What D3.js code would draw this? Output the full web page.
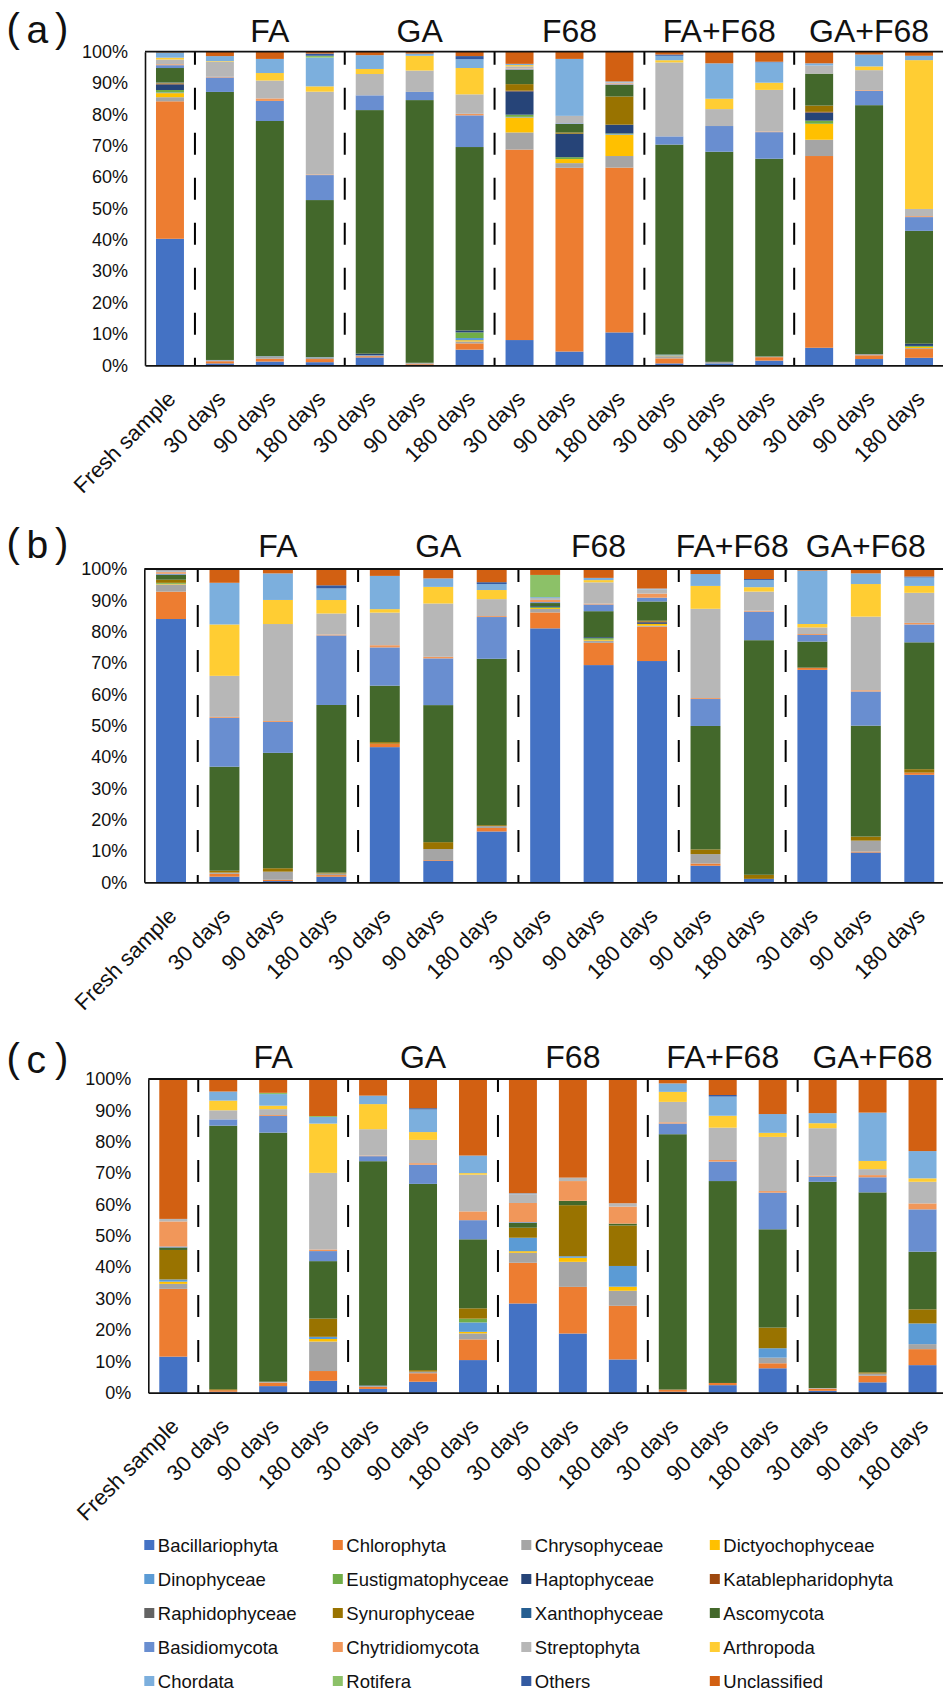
<!DOCTYPE html>
<html><head><meta charset="utf-8">
<script src="https://cdn.jsdelivr.net/npm/d3@7"></script>
<style>
body{margin:0;background:#fff}
svg{display:block}
text{font-family:"Liberation Sans",Arial,sans-serif}
</style>
</head><body>
<svg id="chart" width="943" height="1691"></svg>
<script>
// ---------- categories, groups, ticks ----------
const seriesNames = ["Bacillariophyta","Chlorophyta","Chrysophyceae","Dictyochophyceae","Dinophyceae","Eustigmatophyceae","Haptophyceae","Katablepharidophyta","Raphidophyceae","Synurophyceae","Xanthophyceae","Ascomycota","Basidiomycota","Chytridiomycota","Streptophyta","Arthropoda","Chordata","Rotifera","Others","Unclassified"];
const seriesColors = ["#4472C4","#ED7D31","#A5A5A5","#FFC000","#5B9BD5","#70AD47","#264478","#9E480E","#636363","#997300","#255E91","#43682B","#698ED0","#F1975A","#B7B7B7","#FFCD33","#7CAFDD","#8CC168","#335AA1","#D26012"];

const categoriesAC = ["Fresh sample","30 days","90 days","180 days","30 days","90 days","180 days","30 days","90 days","180 days","30 days","90 days","180 days","30 days","90 days","180 days"];
const groupsAC = ["","FA","FA","FA","GA","GA","GA","F68","F68","F68","FA+F68","FA+F68","FA+F68","GA+F68","GA+F68","GA+F68"];
const categoriesB = ["Fresh sample","30 days","90 days","180 days","30 days","90 days","180 days","30 days","90 days","180 days","90 days","180 days","30 days","90 days","180 days"];
const groupsB = ["","FA","FA","FA","GA","GA","GA","F68","F68","F68","FA+F68","FA+F68","GA+F68","GA+F68","GA+F68"];
const yTickValues = [0,0.1,0.2,0.3,0.4,0.5,0.6,0.7,0.8,0.9,1.0];
const panelLetters = ["a","b","c"];

// ---------- panel (a) values, % ----------
const A_Bacillariophyta = [40.3,0.6,1.2,1.0,2.5,0.2,5.0,8.1,4.4,10.5,0.6,0.6,1.5,5.6,2.0,2.4];
const A_Chlorophyta = [43.8,0.7,0.9,1.0,0.4,0.3,2.0,61.1,58.7,52.6,1.6,0,1.1,61.2,1.2,2.8];
const A_Chrysophyceae = [1.3,0.3,0.7,0.5,0.2,0.3,0.6,5.5,1.5,3.7,0.7,0.5,0.2,5.2,0.4,0.3];
const A_Dictyochophyceae = [1.3,0,0,0,0,0,0.4,4.8,1.3,6.8,0.2,0,0,5.1,0,0.4];
const A_Dinophyceae = [0.2,0.1,0.1,0.1,0.1,0,0.7,0.2,0,0.2,0.3,0,0,0,0,0];
const A_Eustigmatophyceae = [0.8,0,0,0,0,0,1.8,0.7,0.6,0.2,0,0,0,1.0,0,0.3];
const A_Haptophyceae = [1.8,0,0,0,0.5,0,0.6,7.5,7.5,2.8,0,0,0,2.6,0,0.7];
const A_Katablepharidophyta = [0.2,0,0,0,0,0,0,0.2,0,0,0,0,0,0.2,0,0];
const A_Raphidophyceae = [0.1,0,0,0,0,0,0,0,0,0,0,0,0,0,0,0];
const A_Synurophyceae = [0.2,0,0,0,0,0,0,2.1,0.4,9.0,0,0,0,2.0,0,0];
const A_Xanthophyceae = [0.1,0,0,0,0,0,0,0,0,0,0,0,0,0,0,0];
const A_Ascomycota = [4.6,85.3,75.0,50.3,77.6,83.6,58.5,4.6,2.7,3.7,66.7,67.0,63.2,10.2,79.6,36.1];
const A_Basidiomycota = [0.9,4.6,6.4,8.0,4.7,2.6,10.1,0.2,0.2,0.2,2.6,8.2,8.5,0,4.6,4.4];
const A_Chytridiomycota = [0.3,0.2,0.8,0.2,0,0,0.5,0.2,0,0.3,0,0,0.2,0,0.2,0.3];
const A_Streptophyta = [1.5,4.8,5.7,26.5,6.8,6.8,6.2,0.7,2.4,0.3,23.5,5.4,13.3,2.6,6.4,2.3];
const A_Arthropoda = [0.6,0.2,2.4,1.7,1.6,4.7,8.4,0.4,0,0,0.7,3.3,2.3,0,1.2,47.6];
const A_Chordata = [1.5,1.6,4.5,9.2,4.4,0.7,2.8,0.4,18.2,0.3,1.4,11.3,6.5,0.7,3.8,1.4];
const A_Rotifera = [0.1,0,0,0.6,0,0,0,0,0,0,0,0,0,0,0,0];
const A_Others = [0.1,0,0,0.7,0,0,1.0,0,0,0,0.4,0,0.2,0,0,0];
const A_Unclassified = [0.2,1.4,2.3,0.6,1.1,0.6,1.4,3.9,2.3,9.5,0.9,3.7,3.2,3.7,0.9,1.3];

// ---------- panel (b) values, % ----------
const B_Bacillariophyta = [83.7,1.8,0.4,1.8,43.1,6.9,16.2,81.3,68.5,70.2,5.3,1.1,67.6,9.5,34.3];
const B_Chlorophyta = [8.7,0.9,0.4,0.5,1.1,0.2,1.1,5.1,7.0,10.9,0.7,0,0.7,0.3,0.7];
const B_Chrysophyceae = [2.3,0.4,2.6,0.5,0,3.5,0.6,1.1,0.7,0.3,3.0,0,0,3.5,0];
const B_Dictyochophyceae = [0.2,0,0,0,0,0,0,0.3,0.3,0.6,0,0,0,0,0];
const B_Dinophyceae = [0,0,0,0,0,0,0,0,0,0,0,0,0,0,0];
const B_Eustigmatophyceae = [0.3,0,0,0,0,0,0,0.3,0.5,0,0,0,0,0,0];
const B_Haptophyceae = [0,0,0,0,0,0,0,0.3,0.3,0.5,0,0,0,0,0];
const B_Katablepharidophyta = [0,0,0,0,0,0,0,0,0,0.2,0,0,0,0,0];
const B_Raphidophyceae = [0,0,0,0,0,0,0,0,0,0,0,0,0,0,0];
const B_Synurophyceae = [1.0,0.6,1.1,0.3,0.5,2.2,0.3,0,0,0.3,1.5,1.3,0,1.3,1.1];
const B_Xanthophyceae = [0,0,0,0,0,0,0,0,0,0,0,0,0,0,0];
const B_Ascomycota = [1.6,33.2,36.9,53.5,18.0,43.7,53.0,1.0,8.2,6.1,39.4,74.8,8.3,35.4,40.5];
const B_Basidiomycota = [0.3,15.6,9.9,22.2,12.2,14.9,13.3,0.3,2.1,1.2,8.6,9.1,2.1,10.9,5.7];
const B_Chytridiomycota = [0.5,0.3,0.3,0.3,0.7,0.5,0.3,0.7,0.3,1.3,0.3,0.3,0.3,0.4,0.5];
const B_Streptophyta = [0.3,13.1,31.0,6.7,10.4,17.0,5.4,0.6,6.7,1.3,28.5,6.1,2.1,23.5,9.6];
const B_Arthropoda = [0,16.4,7.7,4.3,1.1,5.3,2.9,0,0.7,0,7.3,1.4,1.1,10.4,2.2];
const B_Chordata = [0.3,13.3,8.5,3.7,10.6,2.7,1.9,0.3,0.7,0.3,3.8,2.3,17.0,3.4,2.7];
const B_Rotifera = [0,0,0,0,0,0,0,7.1,0,0,0,0,0,0,0];
const B_Others = [0,0,0,1.0,0,0,0.6,0,0,0,0,0.3,0,0,0.3];
const B_Unclassified = [0.4,4.4,1.4,5.2,2.2,3.0,4.2,1.9,2.8,6.2,1.6,3.2,0.5,1.4,2.4];

// ---------- panel (c) values, % ----------
const C_Bacillariophyta = [11.5,0.3,2.1,3.8,1.2,3.5,10.4,28.5,18.9,10.6,0.3,2.4,7.8,0.6,3.3,8.8];
const C_Chlorophyta = [21.6,0.5,1.1,3.1,0.7,2.7,6.6,13.0,14.9,17.1,0.7,0.7,1.6,0.7,2.1,5.1];
const C_Chrysophyceae = [1.6,0,0.3,9.4,0.2,0.5,1.9,3.2,8.0,4.8,0,0,1.8,0.2,0.7,1.6];
const C_Dictyochophyceae = [0.7,0,0,0.8,0,0,0.5,0.5,1.3,1.3,0,0,0,0,0,0];
const C_Dinophyceae = [0.7,0,0,0.7,0,0,3.0,4.3,0.5,6.6,0,0,3.0,0,0,6.6];
const C_Eustigmatophyceae = [0,0,0,0,0,0,1.2,0,0,0,0,0,0,0,0,0];
const C_Haptophyceae = [0,0,0,0,0,0,0,0,0,0,0,0,0,0,0,0];
const C_Katablepharidophyta = [0,0,0,0,0,0,0,0,0,0,0,0,0,0,0,0];
const C_Raphidophyceae = [0,0,0,0,0,0,0,0,0,0,0,0,0,0,0,0];
const C_Synurophyceae = [9.4,0.3,0,5.8,0,0.5,3.3,3.2,16.3,12.9,0,0,6.6,0,0.4,4.5];
const C_Xanthophyceae = [0,0,0,0,0.2,0,0,0,0,0,0,0,0,0,0,0];
const C_Ascomycota = [0.8,84.2,79.4,18.3,71.5,59.3,22.0,1.6,1.4,0.6,81.4,64.3,31.4,65.8,57.3,18.4];
const C_Basidiomycota = [0.3,2.0,5.3,3.2,1.6,6.1,6.1,0.2,0,0,3.4,6.2,11.7,1.6,4.8,13.5];
const C_Chytridiomycota = [8.0,0,0.3,0.5,0.2,0.5,2.8,6.1,6.3,5.4,0.4,0.5,0.5,0.3,0.7,1.9];
const C_Streptophyta = [0.8,2.9,1.9,24.4,8.4,7.4,11.7,2.8,1.1,1.1,6.5,10.3,17.3,15.2,1.9,6.9];
const C_Arthropoda = [0,3.1,1.1,15.7,8.0,2.5,0.5,0,0,0,3.2,3.8,1.3,1.6,2.6,1.1];
const C_Chordata = [0,2.9,3.7,2.1,2.7,7.2,5.6,0.3,0,0,2.7,6.1,6.0,3.2,15.4,8.7];
const C_Rotifera = [0,0,0.4,0.3,0,0,0,0,0,0,0,0,0,0,0,0];
const C_Others = [0,0,0,0,0,0.4,0,0,0,0,0,0.5,0,0,0,0];
const C_Unclassified = [44.6,4.0,4.4,11.8,5.3,9.3,24.4,36.5,31.5,39.6,1.4,5.1,11.2,10.9,10.7,23.0];

const valuesA = [A_Bacillariophyta,A_Chlorophyta,A_Chrysophyceae,A_Dictyochophyceae,A_Dinophyceae,A_Eustigmatophyceae,A_Haptophyceae,A_Katablepharidophyta,A_Raphidophyceae,A_Synurophyceae,A_Xanthophyceae,A_Ascomycota,A_Basidiomycota,A_Chytridiomycota,A_Streptophyta,A_Arthropoda,A_Chordata,A_Rotifera,A_Others,A_Unclassified];
const valuesB = [B_Bacillariophyta,B_Chlorophyta,B_Chrysophyceae,B_Dictyochophyceae,B_Dinophyceae,B_Eustigmatophyceae,B_Haptophyceae,B_Katablepharidophyta,B_Raphidophyceae,B_Synurophyceae,B_Xanthophyceae,B_Ascomycota,B_Basidiomycota,B_Chytridiomycota,B_Streptophyta,B_Arthropoda,B_Chordata,B_Rotifera,B_Others,B_Unclassified];
const valuesC = [C_Bacillariophyta,C_Chlorophyta,C_Chrysophyceae,C_Dictyochophyceae,C_Dinophyceae,C_Eustigmatophyceae,C_Haptophyceae,C_Katablepharidophyta,C_Raphidophyceae,C_Synurophyceae,C_Xanthophyceae,C_Ascomycota,C_Basidiomycota,C_Chytridiomycota,C_Streptophyta,C_Arthropoda,C_Chordata,C_Rotifera,C_Others,C_Unclassified];

// ---------- drawing ----------
const svg = d3.select("#chart");
const FONT = '"Liberation Sans", Arial, sans-serif';

function drawPanel(cfg){
  const {letter, cats, groups, values, left, right, top, bottom, titleY, letterY} = cfg;
  const g = svg.append("g");
  const x = d3.scaleBand().domain(d3.range(cats.length)).range([left, right])
              .paddingInner(0.44).paddingOuter(0.22);
  const y = d3.scaleLinear().domain([0,1]).range([bottom, top]);

  const rows = cats.map((c,i)=>{ const o={idx:i}; seriesNames.forEach((s,k)=>{o[s]=values[k][i];}); return o; });
  const stacked = d3.stack().keys(seriesNames).offset(d3.stackOffsetExpand)(rows);

  const layer = g.selectAll("g.layer").data(stacked).join("g")
     .attr("class","layer").attr("fill",(d,k)=>seriesColors[k]);
  layer.selectAll("rect").data(d=>d.filter(p=>p[1]-p[0]>0)).join("rect")
     .attr("x",p=>x(p.data.idx)).attr("width",x.bandwidth())
     .attr("y",p=>y(p[1])).attr("height",p=>y(p[0])-y(p[1]));

  // dashed separators between treatment groups
  const gap = x.step()-x.bandwidth();
  const seps = d3.range(1,cats.length).filter(i=>groups[i]!==groups[i-1]);
  g.selectAll("line.sep").data(seps).join("line").attr("class","sep")
    .attr("x1",i=>x(i)-gap/2).attr("x2",i=>x(i)-gap/2)
    .attr("y1",top).attr("y2",bottom)
    .attr("stroke","#000").attr("stroke-width",2)
    .attr("stroke-dasharray","22,23").attr("stroke-dashoffset",9);

  // y axis
  const ya = g.append("g").attr("transform",`translate(${left},0)`)
    .call(d3.axisLeft(y).tickValues(yTickValues).tickFormat(d3.format(".0%")).tickSize(0).tickPadding(17));
  ya.select(".domain").attr("stroke","#111").attr("stroke-width",1.6);
  ya.selectAll("text").attr("font-size",18).attr("font-family",FONT).attr("fill","#111");

  // x axis
  const xa = g.append("g").attr("transform",`translate(0,${bottom})`)
    .call(d3.axisBottom(x).tickFormat(i=>cats[i]).tickSize(0).tickSizeOuter(0));
  xa.select(".domain").attr("stroke","#111").attr("stroke-width",1.8);
  xa.selectAll("text").attr("font-size",22).attr("font-family",FONT).attr("fill","#111")
    .attr("x",0).attr("y",0).attr("dy",0).attr("text-anchor","end")
    .attr("transform","translate(7,35) rotate(-45)");

  // top border
  g.append("line").attr("x1",left).attr("x2",943).attr("y1",top).attr("y2",top)
    .attr("stroke","#111").attr("stroke-width",1.8);

  // group titles
  const groupNames = Array.from(new Set(groups.filter(s=>s)));
  g.selectAll("text.gt").data(groupNames).join("text").attr("class","gt")
    .attr("x",name=>{ const idx=d3.range(cats.length).filter(i=>groups[i]===name);
        return (x(idx[0])+x(idx[idx.length-1])+x.bandwidth())/2; })
    .attr("y",titleY).attr("text-anchor","middle")
    .attr("font-size",32).attr("font-family",FONT).attr("fill","#111")
    .text(d=>d);

  // panel letter "(x)"
  const pl = g.append("g").attr("font-family",FONT).attr("fill","#111");
  pl.append("text").attr("x",6.5).attr("y",letterY).attr("font-size",40).text("(");
  pl.append("text").attr("x",26.5).attr("y",letterY+0.7).attr("font-size",39).text(letter);
  pl.append("text").attr("x",55).attr("y",letterY).attr("font-size",40).text(")");
}

drawPanel({letter:panelLetters[0], cats:categoriesAC, groups:groupsAC, values:valuesA,
  left:145, right:944, top:51.7, bottom:365.3, titleY:41.7, letterY:42});
drawPanel({letter:panelLetters[1], cats:categoriesB, groups:groupsB, values:valuesB,
  left:144.3, right:946, top:569, bottom:882.3, titleY:556.7, letterY:557});
drawPanel({letter:panelLetters[2], cats:categoriesAC, groups:groupsAC, values:valuesC,
  left:148.3, right:947.5, top:1079, bottom:1392.7, titleY:1068.3, letterY:1072});

// legend
const leg = svg.append("g");
const li = leg.selectAll("g").data(seriesNames).join("g")
  .attr("transform",(d,k)=>`translate(${144.3+188.5*(k%4)},${1545+34*Math.floor(k/4)})`);
li.append("rect").attr("x",0).attr("y",-5).attr("width",10).attr("height",10)
  .attr("fill",(d,k)=>seriesColors[k]);
li.append("text").attr("x",13.5).attr("y",0).attr("dy","0.36em")
  .attr("font-size",18.5).attr("font-family",FONT).attr("fill","#111").text(d=>d);
</script>
</body></html>
